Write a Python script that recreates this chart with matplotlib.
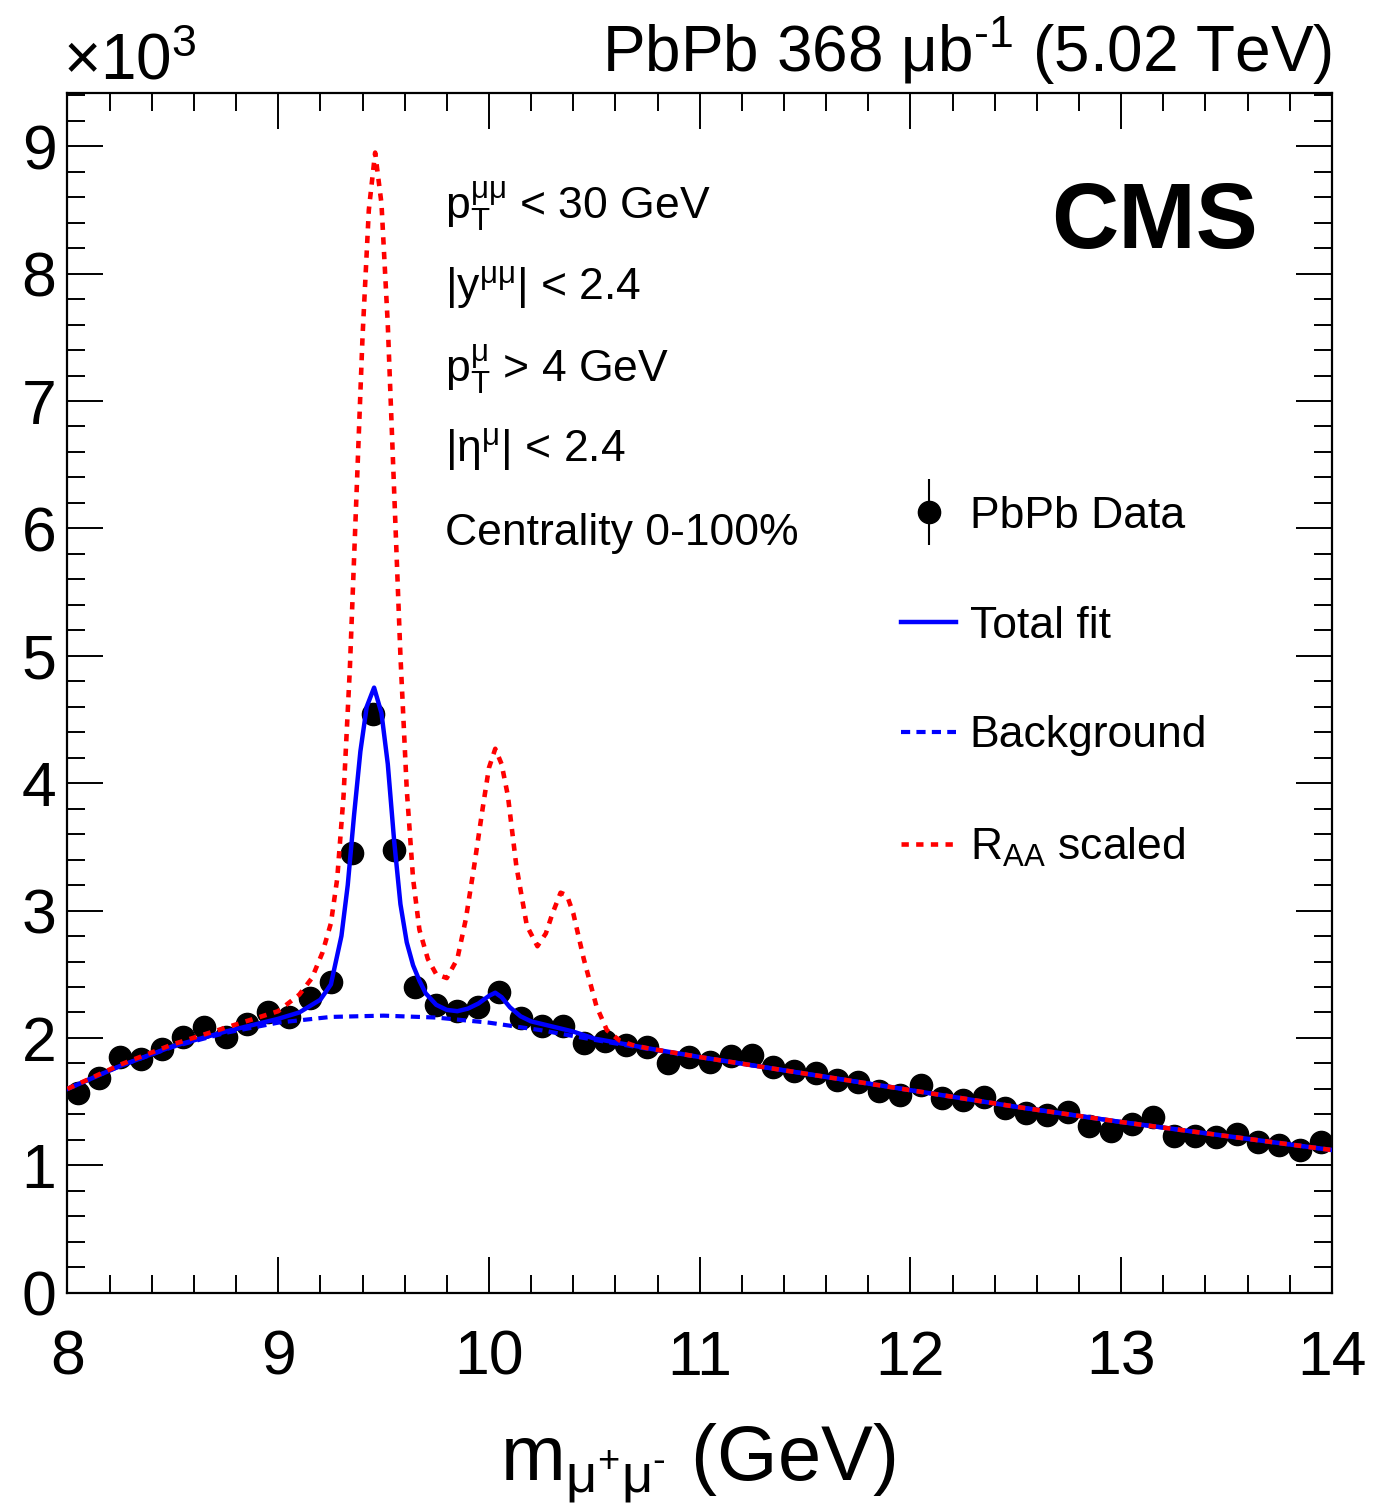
import numpy as np
import matplotlib
matplotlib.use("Agg")
import matplotlib.pyplot as plt
from matplotlib.ticker import MultipleLocator
from matplotlib.legend_handler import HandlerErrorbar

plt.rcParams['font.family'] = ['Liberation Sans', 'DejaVu Sans']
plt.rcParams['mathtext.fontset'] = 'custom'
plt.rcParams['mathtext.rm'] = 'Liberation Sans'
plt.rcParams['mathtext.it'] = 'Liberation Sans'
plt.rcParams['mathtext.default'] = 'regular'

# dimuon invariant mass bin centres (GeV)
mass_bins = [8.05, 8.15, 8.25, 8.35, 8.45, 8.55, 8.65, 8.75, 8.85, 8.95,
             9.05, 9.15, 9.25, 9.35, 9.45, 9.55, 9.65, 9.75, 9.85, 9.95,
             10.05, 10.15, 10.25, 10.35, 10.45, 10.55, 10.65, 10.75, 10.85, 10.95,
             11.05, 11.15, 11.25, 11.35, 11.45, 11.55, 11.65, 11.75, 11.85, 11.95,
             12.05, 12.15, 12.25, 12.35, 12.45, 12.55, 12.65, 12.75, 12.85, 12.95,
             13.05, 13.15, 13.25, 13.35, 13.45, 13.55, 13.65, 13.75, 13.85, 13.95]

# events per bin, in units of 10^3
pbpb_counts = [1.566, 1.683, 1.848, 1.835, 1.913, 2.005, 2.084, 2.005, 2.110, 2.200,
               2.167, 2.310, 2.440, 3.450, 4.540, 3.475, 2.400, 2.260, 2.210, 2.245,
               2.360, 2.155, 2.094, 2.094, 1.958, 1.979, 1.945, 1.932, 1.800, 1.853,
               1.814, 1.859, 1.866, 1.775, 1.740, 1.728, 1.670, 1.657, 1.586, 1.552,
               1.631, 1.526, 1.513, 1.539, 1.448, 1.409, 1.395, 1.421, 1.309, 1.272,
               1.325, 1.382, 1.230, 1.230, 1.225, 1.246, 1.186, 1.160, 1.120, 1.186]

# background shape
bkg_mass = [8.0, 8.25, 8.5, 8.75, 9.0, 9.25, 9.5, 9.75, 10.0, 10.25, 10.5,
            10.75, 11.0, 11.5, 12.0, 12.5, 13.0, 13.5, 14.0]
bkg_vals = [1.60, 1.78, 1.93, 2.04, 2.12, 2.165, 2.175, 2.16, 2.12, 2.06, 1.985,
            1.915, 1.85, 1.72, 1.59, 1.46, 1.34, 1.23, 1.12]

# total fit
fit_mass = [8.0, 8.25, 8.5, 8.75, 9.0, 9.1, 9.2, 9.25, 9.30, 9.33, 9.36, 9.39,
            9.42, 9.455, 9.49, 9.52, 9.55, 9.58, 9.61, 9.64, 9.67, 9.70, 9.75,
            9.80, 9.85, 9.90, 9.95, 10.00, 10.03, 10.06, 10.10, 10.15, 10.20,
            10.30, 10.40, 10.50, 10.75, 11.0, 11.5, 12.0, 12.5, 13.0, 13.5, 14.0]
fit_vals = [1.60, 1.78, 1.935, 2.05, 2.15, 2.20, 2.30, 2.42, 2.80, 3.20, 3.75, 4.25,
            4.60, 4.75, 4.55, 4.15, 3.55, 3.05, 2.75, 2.57, 2.45, 2.35, 2.26,
            2.22, 2.21, 2.23, 2.27, 2.33, 2.355, 2.32, 2.24, 2.17, 2.13,
            2.09, 2.05, 1.995, 1.92, 1.85, 1.72, 1.59, 1.46, 1.34, 1.23, 1.12]

# fit with signal scaled by 1/R_AA
raa_mass = [8.0, 8.25, 8.5, 8.75, 9.0, 9.1, 9.16, 9.21, 9.25, 9.28, 9.31, 9.34,
            9.37, 9.40, 9.43, 9.46, 9.49, 9.52, 9.55, 9.58, 9.61, 9.64, 9.67,
            9.71, 9.75, 9.80, 9.85, 9.89, 9.93, 9.97, 10.00, 10.03, 10.06, 10.09,
            10.13, 10.18, 10.23, 10.27, 10.30, 10.34, 10.37, 10.40, 10.45, 10.51,
            10.56, 10.62, 10.68, 10.75, 11.0, 11.5, 12.0, 12.5, 13.0, 13.5, 14.0]
raa_vals = [1.60, 1.79, 1.95, 2.08, 2.21, 2.34, 2.47, 2.67, 2.90, 3.25, 3.90, 4.90,
            6.20, 7.50, 8.50, 8.95, 8.55, 7.60, 6.30, 5.00, 3.95, 3.25, 2.85,
            2.62, 2.50, 2.47, 2.62, 2.93, 3.35, 3.80, 4.12, 4.27, 4.15, 3.90,
            3.35, 2.88, 2.72, 2.82, 2.97, 3.14, 3.12, 2.98, 2.62, 2.25,
            2.06, 1.98, 1.945, 1.92, 1.85, 1.72, 1.59, 1.46, 1.34, 1.23, 1.12]

counts = np.array(pbpb_counts)
stat_err = np.sqrt(counts * 1000.0) / 1000.0

fig = plt.figure(figsize=(13.83, 15.10), dpi=100)
ax = fig.add_axes([0.0488, 0.1439, 0.9142, 0.7947])

data_h = ax.errorbar(mass_bins, pbpb_counts, yerr=stat_err, fmt='o', color='black',
                     markersize=16, elinewidth=1.5, capsize=0, label='PbPb Data', zorder=2)
fit_h, = ax.plot(fit_mass, fit_vals, color='#0000ff', lw=3.2, label='Total fit', zorder=3)
bkg_h, = ax.plot(bkg_mass, bkg_vals, color='#0000ff', lw=3.0, dashes=(2.2, 1.5),
                 label='Background', zorder=3)
raa_h, = ax.plot(raa_mass, raa_vals, color='#ff0000', lw=3.3, dashes=(1.6, 1.6),
                 label=r'R$_{AA}$ scaled', zorder=4)

ax.set_xlim(8, 14)
ax.set_ylim(0, 9.42)
ax.xaxis.set_major_locator(MultipleLocator(1))
ax.xaxis.set_minor_locator(MultipleLocator(0.2))
ax.yaxis.set_major_locator(MultipleLocator(1))
ax.yaxis.set_minor_locator(MultipleLocator(0.2))
ax.tick_params(which='both', direction='in', top=True, right=True, width=1.4)
ax.tick_params(which='major', length=26, labelsize=45)
ax.tick_params(which='minor', length=13)
ax.tick_params(axis='x', which='major', pad=26)
ax.tick_params(axis='y', which='major', pad=8)
for s in ax.spines.values():
    s.set_linewidth(1.6)

# header texts
fig.text(63 / 1383, 1 - 80 / 1510, r'×10$^{3}$', fontsize=46, va='baseline')
fig.text(1332 / 1383, 1 - 72 / 1510, 'PbPb 368 μb$^{\u2010' + '1}$ (5.02 TeV)',
         fontsize=46, ha='right', va='baseline')
fig.text(1258 / 1383, 1 - 248 / 1510, 'CMS', fontsize=67, fontweight='bold',
         ha='right', va='baseline')
fig.text(698 / 1383, 1 - 1480 / 1510, 'm$_{μ^{+}μ^{\u2010}}$ (GeV)', fontsize=56,
         ha='center', va='baseline')

# selection cuts
cut_lines = [r'p$_{T}^{μμ}$ < 30 GeV', r'|y$^{μμ}$| < 2.4', r'p$_{T}^{μ}$ > 4 GeV',
             r'|η$^{μ}$| < 2.4', 'Centrality 0-100%']
cut_baselines = [220, 300, 383, 462, 545]
for txt, yb in zip(cut_lines, cut_baselines):
    fig.text(445 / 1383, 1 - yb / 1510, txt, fontsize=32, va='baseline')

ax.legend([data_h, fit_h, bkg_h, raa_h],
          ['PbPb Data', 'Total fit', 'Background', r'R$_{AA}$ scaled'],
          loc='upper left', bbox_to_anchor=(0.645, 0.679), frameon=False,
          fontsize=32, handlelength=1.25, handletextpad=0.3, labelspacing=1.55,
          borderaxespad=0,
          handler_map={type(data_h): HandlerErrorbar(yerr_size=0.75)})

fig.savefig('out.png', dpi=100)
